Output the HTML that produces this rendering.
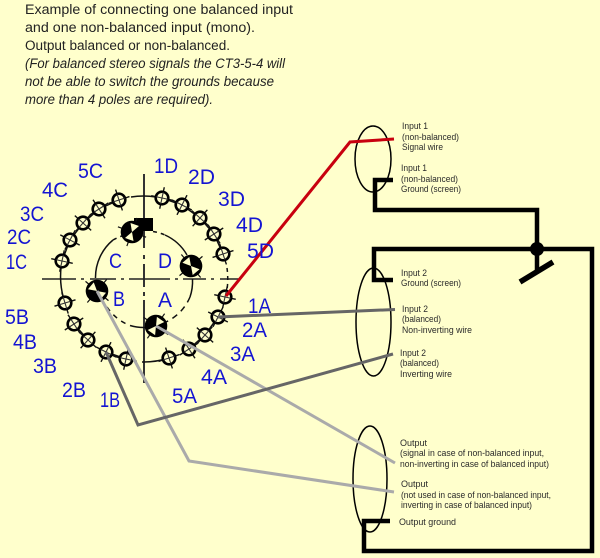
<!DOCTYPE html>
<html><head><meta charset="utf-8"><style>
html,body{margin:0;padding:0;background:#ffc}
svg{display:block}
.m{font:13.4px "Liberation Sans",sans-serif;fill:#222}
.s{font:9.4px "Liberation Sans",sans-serif;fill:#2a2a2a}
.b{font:21.5px "Liberation Sans",sans-serif;fill:#1414d2}
</style></head><body>
<svg width="600" height="558" viewBox="0 0 600 558" xmlns="http://www.w3.org/2000/svg">
<defs>
<g id="t">
<line x1="-11" y1="0" x2="11" y2="0" stroke="#111" stroke-width="1.4"/>
<line x1="0" y1="-11" x2="0" y2="11" stroke="#111" stroke-width="1.4"/>
<circle r="6.3" fill="#ffc" stroke="#000" stroke-width="2.6"/>
<line x1="-6" y1="0" x2="6" y2="0" stroke="#333" stroke-width="1.1"/>
<line x1="0" y1="-6" x2="0" y2="6" stroke="#333" stroke-width="1.1"/>
</g>
<g id="r">
<line x1="-15" y1="0" x2="15" y2="0" stroke="#111" stroke-width="1.2"/>
<line x1="0" y1="-15" x2="0" y2="15" stroke="#111" stroke-width="1.2"/>
<circle r="11.3" fill="#000"/>
<path d="M0,0L8,-4.5L8,4.5Z" fill="#ffc"/>
<path d="M0,0L-8,-4.5L-8,4.5Z" fill="#ffc"/>
</g>
</defs>
<rect width="600" height="558" fill="#ffc"/>

<!-- crosshair -->
<g stroke="#333" stroke-width="2" fill="none">
<path d="M144,174V248M144,255V259M144,264V287M144,292V296M144,300V383"/>
<path stroke="#222" stroke-width="1.6" d="M42,279H76M81,279H84M90,279H116M121,279H124M129,279H170M175,279H178M183,279H206M211,279H214M220,279H240"/>
</g>

<!-- outer arcs -->
<g stroke="#111" stroke-width="1.5" fill="none">
<path d="M131,197A83,83 0 0 1 156,197"/>
<path d="M62,261A83,83 0 0 0 65,303"/>
<path d="M227,268A83,83 0 0 1 227,290" stroke-dasharray="4 4"/>
<path d="M142,362A83,83 0 0 0 169,358"/>
<path d="M62,261L70,240L83,223L99,209L119,200"/>
<path d="M162,198L182,205L200,218L214,234L223,254"/>
<path d="M218,317L205,335L189,349"/>
<path d="M74,324L88,340M106,352L126,359"/>
</g>

<!-- inner circle -->
<g stroke="#111" stroke-width="1.5" fill="none">
<path d="M95.5,278A48.5,48.5 0 0 1 113,240"/>
<path d="M113,240A48.5,48.5 0 0 1 122,236" stroke-dasharray="4 4"/>
<path d="M153,231.5A48.5,48.5 0 0 1 165,235" stroke-dasharray="4 4"/>
<path d="M165,235A48.5,48.5 0 0 1 187,255"/>
<path d="M192.5,279A48.5,48.5 0 0 1 190,297"/>
<path d="M190,297A48.5,48.5 0 0 1 166,322" stroke-dasharray="6 5"/>
<path d="M107,307A48.5,48.5 0 0 0 130,325.5" stroke-dasharray="5 5"/>
<path d="M130,325.5A48.5,48.5 0 0 0 145,327.5"/>
</g>

<!-- terminals -->
<use href="#t" transform="translate(62,261) rotate(192)"/>
<use href="#t" transform="translate(70,240) rotate(208)"/>
<use href="#t" transform="translate(83,223) rotate(222)"/>
<use href="#t" transform="translate(99,209) rotate(237)"/>
<use href="#t" transform="translate(119,200) rotate(252)"/>
<use href="#t" transform="translate(162,198) rotate(282)"/>
<use href="#t" transform="translate(182,205) rotate(297)"/>
<use href="#t" transform="translate(200,218) rotate(312)"/>
<use href="#t" transform="translate(214,234) rotate(327)"/>
<use href="#t" transform="translate(223,254) rotate(342)"/>
<use href="#t" transform="translate(225,297) rotate(12)"/>
<use href="#t" transform="translate(218,317) rotate(27)"/>
<use href="#t" transform="translate(205,335) rotate(42)"/>
<use href="#t" transform="translate(189,349) rotate(57)"/>
<use href="#t" transform="translate(169,358) rotate(72)"/>
<use href="#t" transform="translate(126,359) rotate(102)"/>
<use href="#t" transform="translate(106,352) rotate(117)"/>
<use href="#t" transform="translate(88,340) rotate(132)"/>
<use href="#t" transform="translate(74,324) rotate(147)"/>
<use href="#t" transform="translate(65,303) rotate(163)"/>

<!-- rotors -->
<rect x="134" y="218" width="19" height="13" fill="#000"/>
<use href="#r" transform="translate(132,232) rotate(-70)"/>
<use href="#r" transform="translate(191,266) rotate(50)"/>
<use href="#r" transform="translate(156,326) rotate(-55)"/>
<use href="#r" transform="translate(97,291) rotate(40)"/>

<!-- ellipses -->
<g fill="none" stroke="#000" stroke-width="1.5">
<ellipse cx="373" cy="159" rx="18" ry="33"/>
<ellipse cx="373.5" cy="322" rx="17.5" ry="54"/>
<ellipse cx="370" cy="479" rx="17" ry="53"/>
</g>

<!-- thick ground wiring -->
<g fill="none" stroke="#000" stroke-width="4.5">
<path d="M393,180H375V210H537V270"/>
<path d="M393,280H374V249H592V551H364V521H390"/>
<path d="M520,282L553,262" stroke-width="5.5"/>
</g>
<circle cx="537" cy="249" r="7" fill="#000"/>

<!-- signal wires -->
<g fill="none" stroke-linejoin="miter">
<path d="M156,326L395,463" stroke="#aaa" stroke-width="3"/>
<path d="M97,291L189,461L394,492" stroke="#aaa" stroke-width="3"/>
<path d="M218,317L395,309.5" stroke="#666" stroke-width="3"/>
<path d="M106,352L138,425L393,354" stroke="#666" stroke-width="3"/>
<path d="M226,296L350,142L394,139" stroke="#c8000f" stroke-width="3"/>
</g>

<!-- title -->
<text class="m" x="25" y="14" textLength="268" lengthAdjust="spacingAndGlyphs">Example of connecting one balanced input</text>
<text class="m" x="25" y="32" textLength="230" lengthAdjust="spacingAndGlyphs">and one non-balanced input (mono).</text>
<text class="m" x="25" y="50" textLength="205" lengthAdjust="spacingAndGlyphs">Output balanced or non-balanced.</text>
<text class="m" x="25" y="68" textLength="260" lengthAdjust="spacingAndGlyphs" style="font-style:italic">(For balanced stereo signals the CT3-5-4 will</text>
<text class="m" x="25" y="86" textLength="249" lengthAdjust="spacingAndGlyphs" style="font-style:italic">not be able to switch the grounds because</text>
<text class="m" x="25" y="104" textLength="188" lengthAdjust="spacingAndGlyphs" style="font-style:italic">more than 4 poles are required).</text>

<!-- blue labels -->
<text class="b" x="154" y="173" textLength="24" lengthAdjust="spacingAndGlyphs">1D</text>
<text class="b" x="188" y="184" textLength="27" lengthAdjust="spacingAndGlyphs">2D</text>
<text class="b" x="218" y="206" textLength="27" lengthAdjust="spacingAndGlyphs">3D</text>
<text class="b" x="236" y="232" textLength="27" lengthAdjust="spacingAndGlyphs">4D</text>
<text class="b" x="247" y="258" textLength="27" lengthAdjust="spacingAndGlyphs">5D</text>
<text class="b" x="78" y="178" textLength="25" lengthAdjust="spacingAndGlyphs">5C</text>
<text class="b" x="42" y="197" textLength="26" lengthAdjust="spacingAndGlyphs">4C</text>
<text class="b" x="20" y="221" textLength="24" lengthAdjust="spacingAndGlyphs">3C</text>
<text class="b" x="7" y="244" textLength="24" lengthAdjust="spacingAndGlyphs">2C</text>
<text class="b" x="6" y="269" textLength="21" lengthAdjust="spacingAndGlyphs">1C</text>
<text class="b" x="109" y="268" textLength="13" lengthAdjust="spacingAndGlyphs">C</text>
<text class="b" x="158" y="268" textLength="14" lengthAdjust="spacingAndGlyphs">D</text>
<text class="b" x="113" y="306" textLength="12" lengthAdjust="spacingAndGlyphs">B</text>
<text class="b" x="158" y="307" textLength="14" lengthAdjust="spacingAndGlyphs">A</text>
<text class="b" x="5" y="324" textLength="24" lengthAdjust="spacingAndGlyphs">5B</text>
<text class="b" x="13" y="349" textLength="24" lengthAdjust="spacingAndGlyphs">4B</text>
<text class="b" x="33" y="373" textLength="24" lengthAdjust="spacingAndGlyphs">3B</text>
<text class="b" x="62" y="397" textLength="24" lengthAdjust="spacingAndGlyphs">2B</text>
<text class="b" x="100" y="407" textLength="20" lengthAdjust="spacingAndGlyphs">1B</text>
<text class="b" x="172" y="403" textLength="25" lengthAdjust="spacingAndGlyphs">5A</text>
<text class="b" x="201" y="384" textLength="26" lengthAdjust="spacingAndGlyphs">4A</text>
<text class="b" x="230" y="361" textLength="25" lengthAdjust="spacingAndGlyphs">3A</text>
<text class="b" x="242" y="337" textLength="25" lengthAdjust="spacingAndGlyphs">2A</text>
<text class="b" x="248" y="313" textLength="23" lengthAdjust="spacingAndGlyphs">1A</text>

<!-- small labels -->
<text class="s" x="402" y="129" textLength="26" lengthAdjust="spacingAndGlyphs">Input 1</text>
<text class="s" x="402" y="140" textLength="57" lengthAdjust="spacingAndGlyphs">(non-balanced)</text>
<text class="s" x="402" y="150" textLength="41" lengthAdjust="spacingAndGlyphs">Signal wire</text>
<text class="s" x="401" y="171" textLength="26" lengthAdjust="spacingAndGlyphs">Input 1</text>
<text class="s" x="401" y="182" textLength="57" lengthAdjust="spacingAndGlyphs">(non-balanced)</text>
<text class="s" x="401" y="192" textLength="60" lengthAdjust="spacingAndGlyphs">Ground (screen)</text>
<text class="s" x="401" y="276" textLength="26" lengthAdjust="spacingAndGlyphs">Input 2</text>
<text class="s" x="401" y="286" textLength="60" lengthAdjust="spacingAndGlyphs">Ground (screen)</text>
<text class="s" x="402" y="312" textLength="26" lengthAdjust="spacingAndGlyphs">Input 2</text>
<text class="s" x="402" y="322" textLength="39" lengthAdjust="spacingAndGlyphs">(balanced)</text>
<text class="s" x="402" y="333" textLength="70" lengthAdjust="spacingAndGlyphs">Non-inverting wire</text>
<text class="s" x="400" y="356" textLength="26" lengthAdjust="spacingAndGlyphs">Input 2</text>
<text class="s" x="400" y="366" textLength="39" lengthAdjust="spacingAndGlyphs">(balanced)</text>
<text class="s" x="400" y="377" textLength="52" lengthAdjust="spacingAndGlyphs">Inverting wire</text>
<text class="s" x="400" y="446" textLength="27" lengthAdjust="spacingAndGlyphs">Output</text>
<text class="s" x="400" y="456" textLength="144" lengthAdjust="spacingAndGlyphs">(signal in case of non-balanced input,</text>
<text class="s" x="400" y="467" textLength="149" lengthAdjust="spacingAndGlyphs">non-inverting in case of balanced input)</text>
<text class="s" x="401" y="487" textLength="27" lengthAdjust="spacingAndGlyphs">Output</text>
<text class="s" x="401" y="498" textLength="150" lengthAdjust="spacingAndGlyphs">(not used in case of non-balanced input,</text>
<text class="s" x="401" y="508" textLength="131" lengthAdjust="spacingAndGlyphs">inverting in case of balanced input)</text>
<text class="s" x="399" y="525" textLength="57" lengthAdjust="spacingAndGlyphs">Output ground</text>
</svg>
</body></html>
